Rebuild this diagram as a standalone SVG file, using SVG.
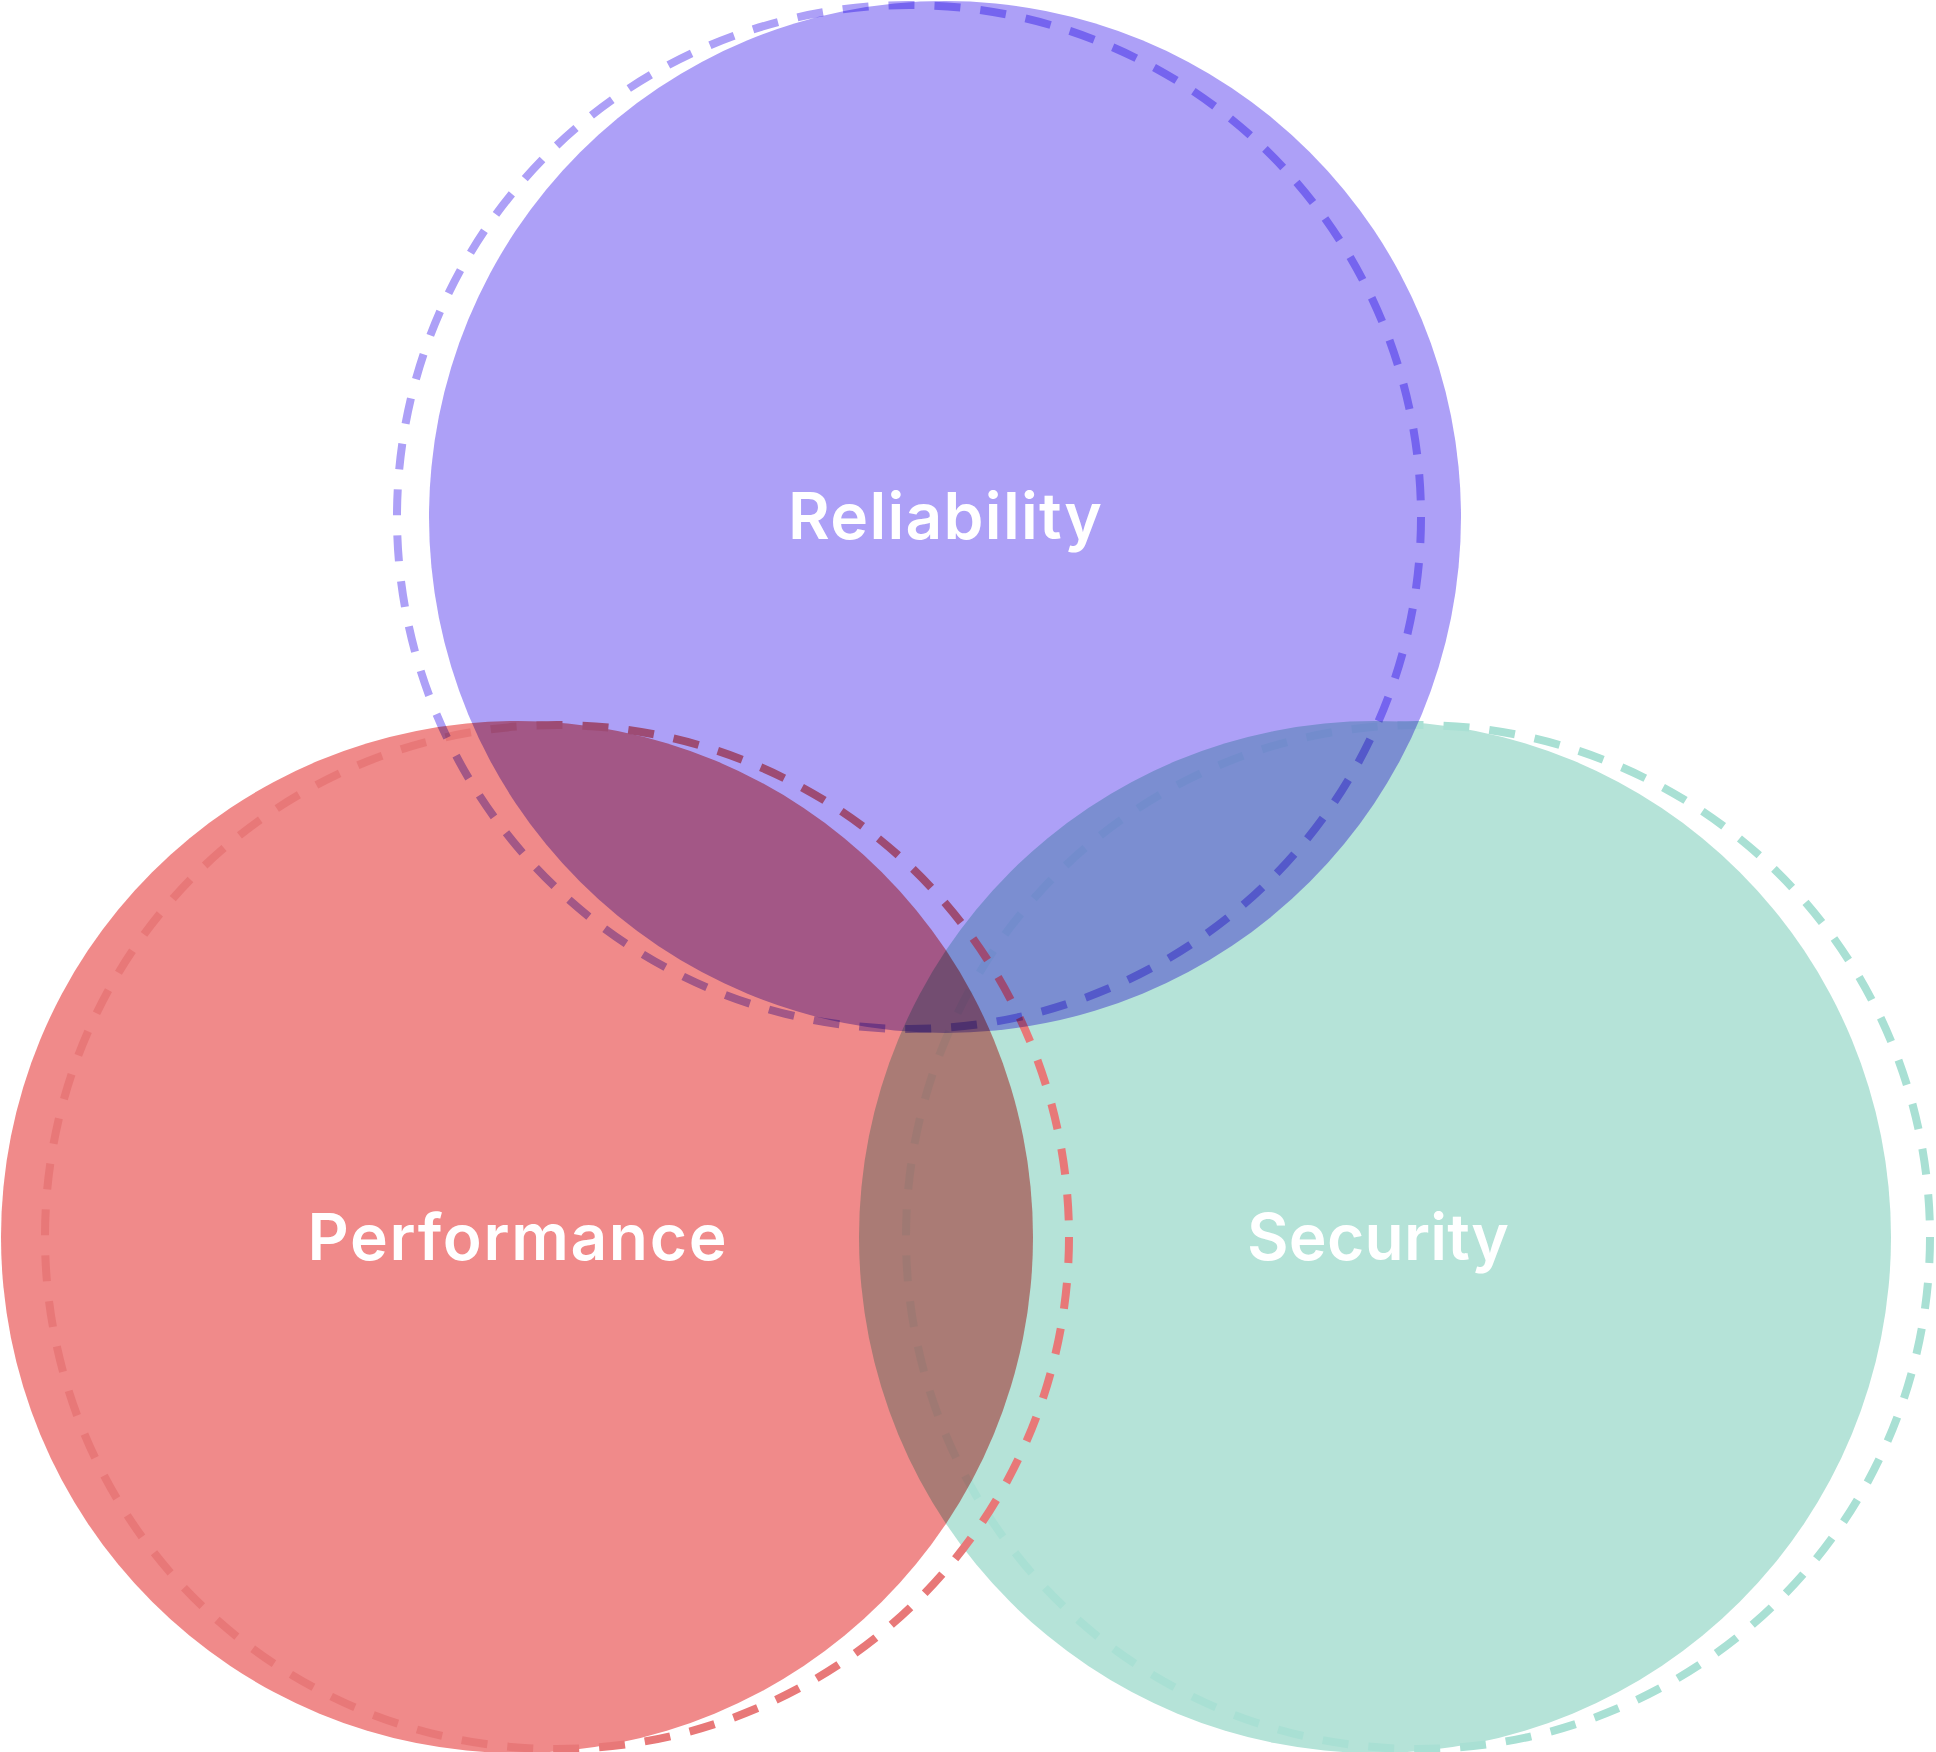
<svg xmlns="http://www.w3.org/2000/svg" width="1936" height="1752" viewBox="0 0 1936 1752">
<style>
.fill{mix-blend-mode:multiply}
.dash{fill:none;stroke-width:8;stroke-dasharray:26 20}
.lbl{font-family:Inter,"Open Sans","DejaVu Sans",sans-serif;font-weight:600;font-size:64px;fill:#ffffff;text-anchor:middle}
</style>
<rect x="0" y="0" width="1936" height="1752" fill="#ffffff"/>
<g id="security">
<circle class="fill" cx="1375" cy="1237" r="516" fill="#B5E3D8"/>
<circle class="dash" cx="1418" cy="1237" r="512" stroke="#A9E0D4"/>
</g>
<g id="performance">
<circle class="fill" cx="517" cy="1237" r="516" fill="#F08A8A"/>
<circle class="dash" cx="557" cy="1237" r="512" stroke="#E87878"/>
</g>
<g id="reliability">
<circle class="fill" cx="945" cy="517" r="516" fill="#ADA0F7"/>
<circle class="dash fill" cx="909" cy="517" r="512" stroke="#ADA0F7"/>
</g>
<g id="connectors"></g>
<g id="labels">
<text class="lbl" x="945" y="539" textLength="314">Reliability</text>
<text class="lbl" x="517" y="1260" textLength="419">Performance</text>
<text class="lbl" x="1378" y="1260" textLength="262">Security</text>
</g>
</svg>
